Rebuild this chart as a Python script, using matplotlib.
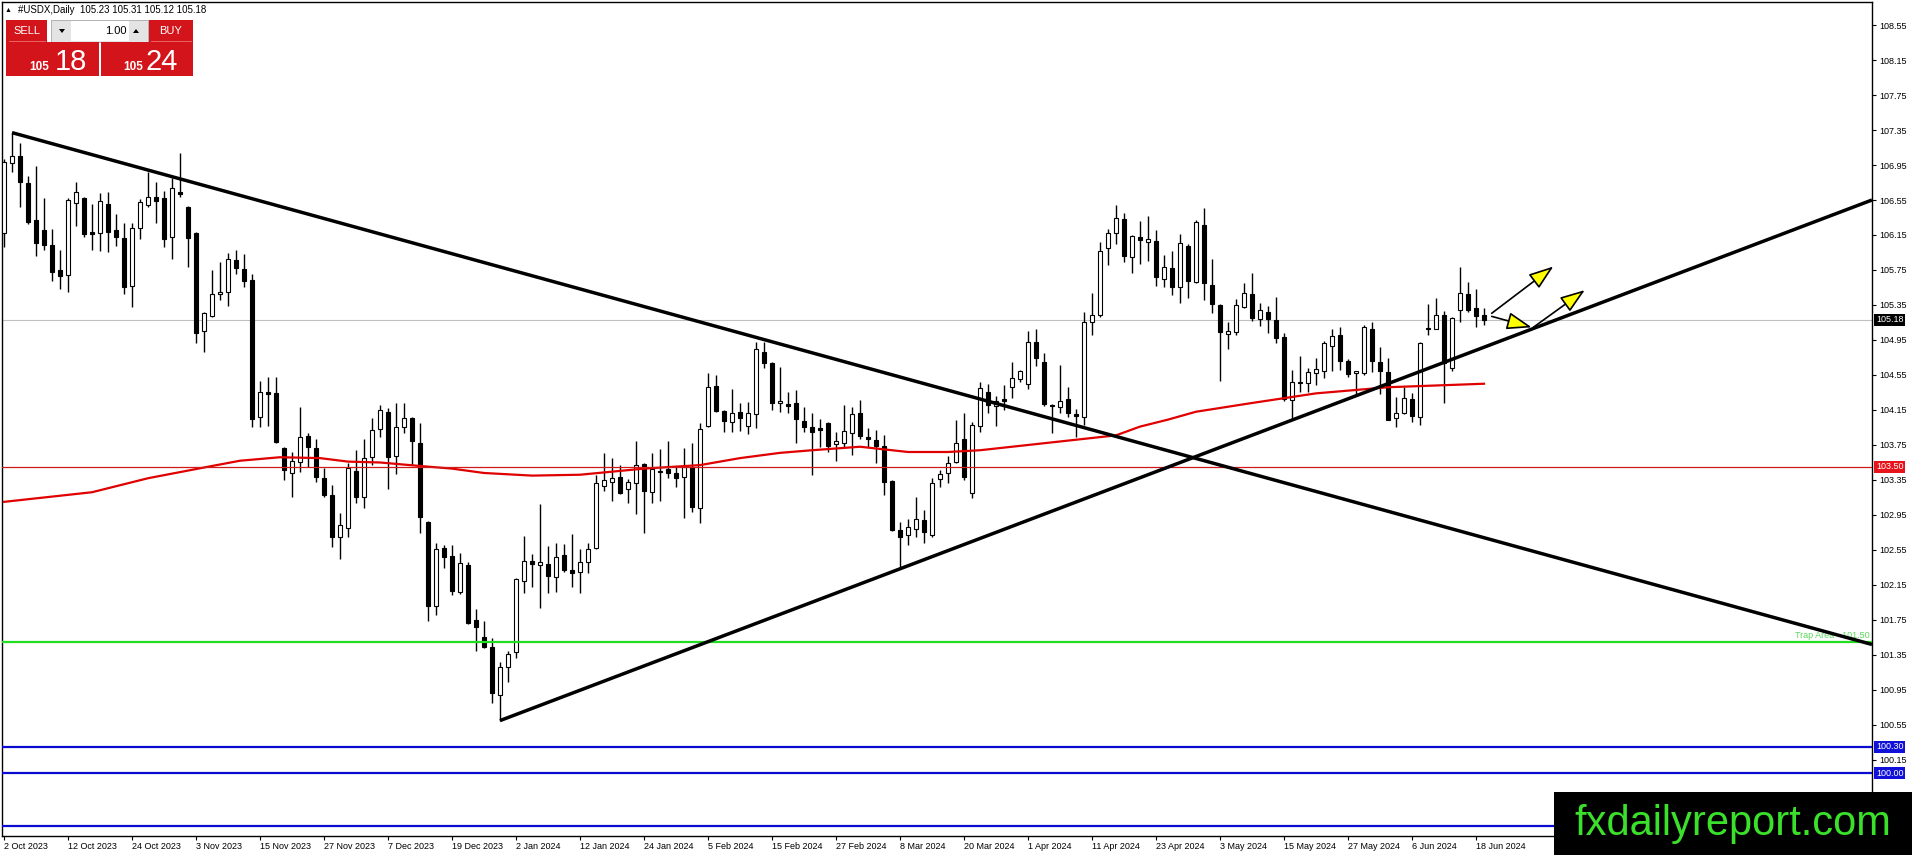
import matplotlib
matplotlib.use('Agg')
import matplotlib.pyplot as plt
import matplotlib.transforms as mtransforms
from matplotlib.patches import Rectangle, Polygon
import numpy as np

plt.rcParams['font.family'] = ['Liberation Sans', 'DejaVu Sans']

# ---------------- data (daily #USDX candles, 2 Oct 2023 .. 19 Jun 2024) ----------------
open_ = [106.17, 106.97, 107.05, 106.74, 106.32, 106.21, 106.04, 105.75, 105.69, 106.52,
         106.57, 106.18, 106.17, 106.51, 106.21, 106.12, 105.57, 106.23, 106.49, 106.58,
         106.57, 106.13, 106.64, 106.47, 106.17, 105.05, 105.22, 105.48, 105.50, 105.86,
         105.76, 105.64, 104.07, 104.35, 104.34, 103.72, 103.43, 103.56, 103.85, 103.72,
         103.37, 103.18, 102.70, 102.80, 103.45, 103.16, 103.61, 103.93, 104.13, 103.62,
         103.96, 104.06, 103.77, 102.87, 101.91, 102.57, 102.48, 102.07, 102.38, 101.75,
         101.56, 101.44, 100.89, 101.21, 101.38, 102.20, 102.42, 102.38, 102.39, 102.24,
         102.49, 102.32, 102.30, 102.41, 102.57, 103.28, 103.33, 103.38, 103.25, 103.31,
         103.53, 103.21, 103.44, 103.48, 103.43, 103.38, 103.50, 103.03, 103.97, 104.42,
         104.14, 104.01, 104.13, 103.97, 104.10, 104.81, 104.69, 104.23, 104.22, 104.23,
         104.02, 103.96, 103.94, 104.00, 103.76, 103.77, 103.89, 104.11, 103.84, 103.81,
         103.74, 103.34, 102.78, 102.72, 102.79, 102.89, 102.72, 103.36, 103.43, 103.56,
         103.82, 103.20, 103.97, 104.36, 104.20, 104.27, 104.41, 104.50, 104.45, 104.93,
         104.70, 104.21, 104.18, 104.27, 104.10, 104.07, 105.16, 105.24, 106.00, 106.17,
         106.33, 105.90, 106.13, 106.07, 106.08, 105.65, 105.77, 105.55, 106.02, 105.61,
         106.26, 105.58, 105.35, 105.02, 105.04, 105.33, 105.48, 105.19, 105.27, 105.18,
         104.98, 104.26, 104.46, 104.46, 104.57, 104.60, 104.88, 105.01, 104.71, 104.57,
         104.57, 105.07, 104.70, 104.58, 104.06, 104.12, 104.28, 104.07, 105.09, 105.08,
         105.24, 104.63, 105.29, 105.48, 105.32, 105.23]
high_ = [107.02, 107.32, 107.20, 106.82, 106.94, 106.57, 106.22, 105.98, 106.57, 106.76,
         106.58, 106.50, 106.63, 106.64, 106.39, 106.29, 106.29, 106.56, 106.87, 106.76,
         106.65, 106.80, 107.09, 106.48, 106.18, 105.27, 105.75, 105.84, 105.94, 105.98,
         105.93, 105.70, 104.48, 104.53, 104.53, 103.73, 103.67, 104.18, 103.89, 103.82,
         103.49, 103.29, 102.97, 103.54, 103.69, 103.82, 104.06, 104.21, 104.17, 104.23,
         104.23, 104.07, 104.00, 102.88, 102.63, 102.61, 102.61, 102.52, 102.41, 101.88,
         101.74, 101.54, 101.27, 101.40, 102.23, 102.71, 102.50, 103.08, 102.60, 102.63,
         102.62, 102.73, 102.56, 102.63, 103.41, 103.66, 103.60, 103.52, 103.36, 103.80,
         103.54, 103.66, 103.70, 103.80, 103.50, 103.72, 103.77, 104.00, 104.57, 104.55,
         104.15, 104.39, 104.23, 104.24, 104.93, 104.93, 104.70, 104.64, 104.35, 104.38,
         104.18, 104.11, 104.05, 104.01, 103.90, 104.21, 104.18, 104.26, 103.94, 103.92,
         103.86, 103.35, 102.87, 102.90, 103.16, 103.01, 103.37, 103.46, 103.62, 104.04,
         104.12, 104.01, 104.47, 104.45, 104.31, 104.44, 104.70, 104.61, 105.05, 105.07,
         104.80, 104.22, 104.66, 104.41, 104.16, 105.27, 105.49, 106.07, 106.22, 106.49,
         106.40, 106.15, 106.31, 106.37, 106.21, 105.92, 105.97, 106.16, 106.05, 106.32,
         106.46, 105.88, 105.36, 105.16, 105.42, 105.60, 105.71, 105.37, 105.34, 105.44,
         105.03, 104.61, 104.77, 104.63, 104.74, 104.94, 105.08, 105.10, 104.73, 104.60,
         105.12, 105.16, 104.87, 104.74, 104.30, 104.41, 104.34, 104.93, 105.36, 105.43,
         105.28, 105.21, 105.78, 105.61, 105.53, 105.31]
low_ = [106.01, 106.87, 106.47, 106.28, 105.91, 105.98, 105.62, 105.53, 105.50, 106.25,
        106.13, 105.98, 105.97, 105.95, 106.02, 105.48, 105.33, 106.10, 106.47, 106.29,
        106.01, 105.87, 106.58, 105.78, 104.92, 104.81, 105.21, 105.41, 105.34, 105.70,
        105.56, 103.96, 103.96, 103.97, 103.77, 103.35, 103.15, 103.44, 103.50, 103.33,
        103.16, 102.58, 102.45, 102.70, 103.09, 103.03, 103.52, 103.84, 103.25, 103.42,
        103.89, 103.52, 102.74, 101.74, 101.81, 102.34, 102.04, 102.05, 101.70, 101.40,
        101.43, 100.80, 100.60, 101.04, 101.32, 102.06, 102.13, 101.89, 102.06, 102.07,
        102.30, 102.13, 102.06, 102.29, 102.56, 103.22, 103.11, 103.19, 103.09, 102.96,
        102.74, 103.09, 103.11, 103.37, 103.27, 102.92, 102.98, 102.86, 103.96, 104.13,
        103.90, 103.90, 103.91, 103.88, 103.94, 104.63, 104.15, 104.13, 104.12, 103.77,
        103.90, 103.41, 103.73, 103.67, 103.57, 103.73, 103.64, 103.82, 103.73, 103.54,
        103.18, 102.77, 102.34, 102.61, 102.70, 102.63, 102.70, 103.27, 103.31, 103.54,
        103.35, 103.14, 103.90, 104.12, 103.97, 104.15, 104.29, 104.47, 104.39, 104.65,
        104.20, 103.89, 104.12, 104.07, 103.84, 103.98, 105.01, 105.21, 105.81, 106.05,
        105.84, 105.72, 105.82, 105.85, 105.57, 105.56, 105.46, 105.37, 105.43, 105.60,
        105.41, 105.26, 104.48, 104.85, 105.01, 105.32, 105.17, 105.11, 105.03, 104.92,
        104.25, 104.04, 104.35, 104.35, 104.43, 104.51, 104.60, 104.61, 104.53, 104.33,
        104.55, 104.58, 104.33, 104.03, 103.96, 104.10, 104.01, 103.98, 105.01, 105.08,
        104.23, 104.60, 105.16, 105.27, 105.10, 105.12]
close_ = [106.98, 107.05, 106.76, 106.30, 106.06, 106.04, 105.73, 105.68, 106.55, 106.64,
          106.16, 106.16, 106.54, 106.18, 106.13, 105.56, 106.23, 106.53, 106.58, 106.54,
          106.10, 106.69, 106.62, 106.11, 105.03, 105.26, 105.48, 105.50, 105.88, 105.77,
          105.62, 104.05, 104.36, 104.33, 103.78, 103.46, 103.57, 103.84, 103.73, 103.38,
          103.18, 102.70, 102.84, 103.49, 103.16, 103.60, 103.92, 104.15, 103.61, 103.96,
          104.06, 103.80, 102.93, 101.91, 102.56, 102.47, 102.08, 102.40, 101.72, 101.67,
          101.44, 100.92, 101.21, 101.36, 102.22, 102.42, 102.39, 102.41, 102.25, 102.47,
          102.32, 102.29, 102.41, 102.56, 103.31, 103.35, 103.37, 103.20, 103.33, 103.52,
          103.22, 103.48, 103.45, 103.43, 103.37, 103.50, 103.04, 103.93, 104.41, 104.14,
          104.02, 104.12, 104.06, 104.12, 104.85, 104.69, 104.23, 104.25, 104.20, 104.05,
          103.96, 103.90, 103.92, 103.74, 103.80, 103.91, 104.10, 103.85, 103.82, 103.74,
          103.33, 102.78, 102.70, 102.81, 102.90, 102.76, 103.31, 103.42, 103.54, 103.77,
          103.38, 103.98, 104.40, 104.21, 104.25, 104.25, 104.51, 104.60, 104.93, 104.74,
          104.22, 104.19, 104.25, 104.12, 104.08, 105.16, 105.24, 105.97, 106.17, 106.34,
          105.91, 106.14, 106.09, 106.10, 105.67, 105.78, 105.56, 106.06, 105.62, 106.30,
          105.60, 105.36, 105.04, 105.05, 105.35, 105.49, 105.20, 105.29, 105.19, 104.97,
          104.28, 104.47, 104.47, 104.58, 104.62, 104.92, 105.00, 104.71, 104.56, 104.60,
          105.10, 104.71, 104.60, 104.04, 104.12, 104.29, 104.08, 104.91, 105.07, 105.24,
          104.69, 105.20, 105.49, 105.29, 105.22, 105.18]

date_labels = ["2 Oct 2023", "12 Oct 2023", "24 Oct 2023", "3 Nov 2023", "15 Nov 2023",
               "27 Nov 2023", "7 Dec 2023", "19 Dec 2023", "2 Jan 2024", "12 Jan 2024",
               "24 Jan 2024", "5 Feb 2024", "15 Feb 2024", "27 Feb 2024", "8 Mar 2024",
               "20 Mar 2024", "1 Apr 2024", "11 Apr 2024", "23 Apr 2024", "3 May 2024",
               "15 May 2024", "27 May 2024", "6 Jun 2024", "18 Jun 2024"]
label_step = 8

price_ticks = [99.75, 100.15, 100.55, 100.95, 101.35, 101.75, 102.15, 102.55, 102.95,
               103.35, 103.75, 104.15, 104.55, 104.95, 105.35, 105.75, 106.15, 106.55,
               106.95, 107.35, 107.75, 108.15, 108.55]

# moving average (bar index, value)
ma_bar = [0, 7, 11, 14.5, 18, 22, 26, 29.5, 34.5, 39.5, 43, 47, 52, 56, 60, 66, 72, 80,
          87, 92, 97, 101, 107, 113, 118, 122, 130, 139, 142, 145.5, 149, 156, 164, 173, 185]
ma_value = [103.10, 103.17, 103.21, 103.29, 103.37, 103.44, 103.51, 103.57, 103.61, 103.60,
            103.56, 103.55, 103.51, 103.48, 103.43, 103.40, 103.41, 103.48, 103.52, 103.60,
            103.66, 103.69, 103.73, 103.67, 103.67, 103.69, 103.77, 103.86, 103.96, 104.04,
            104.13, 104.23, 104.34, 104.41, 104.45]

level_values = [103.50, 101.50, 100.30, 100.00, 99.40]
bid_price = 105.18
header_ohlc = [105.23, 105.31, 105.12, 105.18]
sell_quote = ("105", "18")
buy_quote = ("105", "24")
lot_size = "1.00"

# trend lines (bar index, price) anchors
falling_line = [(1, 107.32), (233.5, 101.47)]
rising_line = [(62, 100.60), (233.5, 106.55)]
# yellow arrows (start, tip) in bar index / price
arrows = [((185.96, 105.255), (193.67, 105.79)),
          ((185.96, 105.22), (190.96, 105.095)),
          ((191.17, 105.095), (197.6, 105.52))]

# ---------------- figure ----------------
W, H = 1912, 855
fig = plt.figure(figsize=(W / 100, H / 100), dpi=100)
fig.patch.set_facecolor('white')


def px_rect(l, t, r, b):
    return [l / W, 1 - b / H, (r - l) / W, (b - t) / H]


ax = fig.add_axes(px_rect(2, 2, 1872, 836))
ax.set_xlim(-0.25, 233.5)
ax.set_ylim(99.281, 108.813)
ax.set_facecolor('white')

x = np.arange(len(close_))
o = np.array(open_); h = np.array(high_); l = np.array(low_); c = np.array(close_)

# bid line
ax.axhline(bid_price, color='#c0c0c0', lw=0.8, zorder=1)

# candles
ax.vlines(x, l, h, color='black', lw=1.0, zorder=2)
bottoms = np.minimum(o, c)
heights = np.maximum(np.abs(c - o), 0.012)
colors = ['white' if cc >= oo else 'black' for oo, cc in zip(o, c)]
ax.bar(x, heights, bottom=bottoms, width=0.6, color=colors, edgecolor='black',
       linewidth=0.8, zorder=3)

# moving average
ax.plot(ma_bar, ma_value, color='#e00000', lw=1.6, zorder=4)

# horizontal levels
level_styles = [('#d01a1a', 0.9), ('#22dd22', 1.6), ('#0a0ad0', 1.6), ('#0a0ad0', 1.6), ('#0a0ad0', 1.6)]
for v, (col, lw) in zip(level_values, level_styles):
    ax.axhline(v, color=col, lw=lw, zorder=4)

ax.text(233.2, 101.525, 'Trap Area - 101.50', ha='right', va='bottom', color='#5ad85a',
        fontsize=6.5, zorder=5)

# trend lines
for (x1, y1), (x2, y2) in (falling_line, rising_line):
    ax.plot([x1, x2], [y1, y2], color='black', lw=2.5, zorder=5, solid_capstyle='butt')

# arrows
for start, tip in arrows:
    ax.annotate('', xy=tip, xytext=start,
                arrowprops=dict(arrowstyle='-|>,head_length=0.85,head_width=0.3',
                                fc='#ffff00', ec='black', lw=1.2, mutation_scale=18,
                                shrinkA=0, shrinkB=0), zorder=6)

# axes styling
for s in ax.spines.values():
    s.set_color('black'); s.set_linewidth(1.0)
ax.yaxis.tick_right()
ax.set_yticks(price_ticks)
ax.set_yticklabels([f'{v:.2f}' for v in price_ticks], fontsize=6.5)
ax.tick_params(axis='y', direction='out', length=3, width=0.8, pad=2, colors='black')
ax.set_xticks(np.arange(len(date_labels)) * label_step)
ax.set_xticklabels(date_labels, fontsize=6.5)
for lbl in ax.get_xticklabels():
    lbl.set_ha('left')
ax.tick_params(axis='x', direction='out', length=3, width=0.8, pad=1, colors='black')

# highlighted price labels on the axis
trans = mtransforms.blended_transform_factory(ax.transAxes, ax.transData)
for val, bg in [(bid_price, 'black'), (103.50, '#e8141c'), (100.30, '#1010d8'), (100.00, '#1010d8')]:
    ax.text(1.0 + 4 / 1870, val, f'{val:.2f}', transform=trans, ha='left', va='center',
            color='white', fontsize=6.5, clip_on=False, zorder=10,
            bbox=dict(boxstyle='square,pad=0.2', fc=bg, ec='none'))

# ---------------- overlay (header, trade panel, watermark) ----------------
ov = fig.add_axes([0, 0, 1, 1], zorder=20)
ov.set_xlim(0, W); ov.set_ylim(H, 0); ov.axis('off'); ov.patch.set_alpha(0)

ov.text(5, 10, '\u25b2', fontsize=5, va='center', ha='left', color='black')
ov.text(18, 10, '#USDX,Daily  ' + ' '.join(f'{v:.2f}' for v in header_ohlc),
        fontsize=7, va='center', ha='left', color='black')

red = '#d3141a'
ov.add_patch(Rectangle((6, 20), 41, 22, fc=red, ec='none'))
ov.add_patch(Rectangle((149, 20), 44, 22, fc=red, ec='none'))
ov.plot([9, 45], [41, 41], color='#f07070', lw=0.6)
ov.plot([151, 191], [41, 41], color='#f07070', lw=0.6)
ov.text(26.5, 31, 'SELL', color='white', fontsize=8, ha='center', va='center')
ov.text(171, 31, 'BUY', color='white', fontsize=8, ha='center', va='center')
ov.add_patch(Rectangle((51, 20), 97, 22, fc='#e4e4e4', ec='#a8a8a8', lw=0.6))
ov.add_patch(Rectangle((71, 21), 58, 20, fc='white', ec='none'))
ov.add_patch(Polygon([[59, 29], [65, 29], [62, 33]], closed=True, fc='black', ec='none'))
ov.add_patch(Polygon([[133, 33], [139, 33], [136, 29]], closed=True, fc='black', ec='none'))
ov.text(127, 31, lot_size, color='black', fontsize=8, ha='right', va='center')
ov.add_patch(Rectangle((6, 42), 93, 34, fc=red, ec='none'))
ov.add_patch(Rectangle((101, 42), 92, 34, fc=red, ec='none'))
ov.text(29, 70, sell_quote[0], color='white', fontsize=8.5, fontweight='bold', va='baseline')
ov.text(55, 70, sell_quote[1], color='white', fontsize=21, va='baseline')
ov.text(123, 70, buy_quote[0], color='white', fontsize=8.5, fontweight='bold', va='baseline')
ov.text(146, 70, buy_quote[1], color='white', fontsize=21, va='baseline')

ov.add_patch(Rectangle((1554, 792), 358, 63, fc='black', ec='none'))
ov.text(1733, 824, 'fxdailyreport.com', color='#3be02b', fontsize=30, ha='center', va='center')

fig.savefig('out.png', dpi=100)
